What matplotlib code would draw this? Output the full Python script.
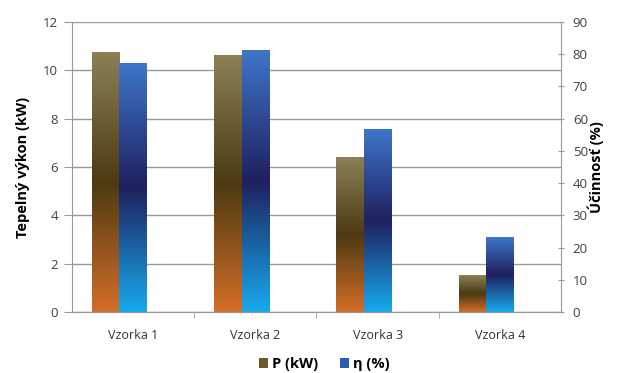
import numpy as np
import matplotlib
matplotlib.use("Agg")
import matplotlib.pyplot as plt
from matplotlib.colors import LinearSegmentedColormap
from matplotlib.patches import Patch

plt.rcParams['font.family'] = ['Open Sans', 'DejaVu Sans']

samples = ['Vzorka 1', 'Vzorka 2', 'Vzorka 3', 'Vzorka 4']
power_kw = [10.75, 10.6, 6.38, 1.5]
efficiency_pct = [77, 81.3, 56.7, 23.2]

power_cmap = LinearSegmentedColormap.from_list(
    'power', ['#d46e28', '#4c3a12', '#8c8056'])
eff_cmap = LinearSegmentedColormap.from_list(
    'eff', ['#17aaee', '#1f205e', '#3e76ca'])

grad = np.linspace(0, 1, 256).reshape(-1, 1)
width = 0.225
x = np.arange(len(samples))

fig = plt.figure(figsize=(6.24, 3.73), dpi=100)
ax = fig.add_axes([0.1154, 0.1635, 0.7836, 0.7775])
ax2 = ax.twinx()

# gradient-filled bars, one image per bar
for xi, p in zip(x, power_kw):
    ax.imshow(grad, cmap=power_cmap, origin='lower', aspect='auto',
              interpolation='bilinear', zorder=3,
              extent=(xi - 1.5 * width, xi - 0.5 * width, 0, p))
for xi, e in zip(x, efficiency_pct):
    ax2.imshow(grad, cmap=eff_cmap, origin='lower', aspect='auto',
               interpolation='bilinear', zorder=3,
               extent=(xi - 0.5 * width, xi + 0.5 * width, 0, e))

ax.set_xlim(-0.5, len(samples) - 0.5)
ax.set_ylim(0, 12)
ax2.set_ylim(0, 90)
ax.set_yticks(np.arange(0, 13, 2))
ax2.set_yticks(np.arange(0, 91, 10))

ax.set_axisbelow(True)
ax.yaxis.grid(True, color='#9a9a9a', linewidth=1.0)
ax.set_xticks(x)
ax.set_xticklabels(samples)
ax.set_xticks(x[:-1] + 0.5, minor=True)
ax.tick_params(axis='x', which='major', length=0, pad=12, labelsize=9,
               labelcolor='#333333')
ax.tick_params(axis='x', which='minor', length=4, color='#9a9a9a',
               direction='out')
ax.tick_params(axis='y', length=6, color='#9a9a9a', labelsize=9.5,
               labelcolor='#404040', pad=4)
ax2.tick_params(axis='y', length=5, color='#9a9a9a', direction='inout',
                labelsize=9.5, labelcolor='#404040', pad=6)

for a in (ax, ax2):
    a.spines['top'].set_visible(False)
    a.spines['left'].set_color('#9a9a9a')
    a.spines['right'].set_color('#9a9a9a')
    a.spines['bottom'].set_color('#9a9a9a')
ax.spines['right'].set_visible(False)
ax2.spines['left'].set_visible(False)
ax2.patch.set_visible(False)

ax.set_ylabel('Tepelný výkon (kW)', fontsize=10.5, fontweight='bold', labelpad=9)
ax2.set_ylabel('Účinnosť (%)', fontsize=10.5, fontweight='bold', labelpad=0)

handles = [Patch(facecolor='#6a5a2c', edgecolor='none', label='P (kW)'),
           Patch(facecolor='#2a5cb4', edgecolor='none', label='η (%)')]
fig.legend(handles=handles, loc='lower center', ncol=2, frameon=False,
           bbox_to_anchor=(0.52, -0.03), handlelength=0.6, handleheight=0.6,
           handletextpad=0.3, columnspacing=1.5,
           prop={'weight': 'bold', 'size': 10.5})

fig.savefig('out.png', dpi=100)
